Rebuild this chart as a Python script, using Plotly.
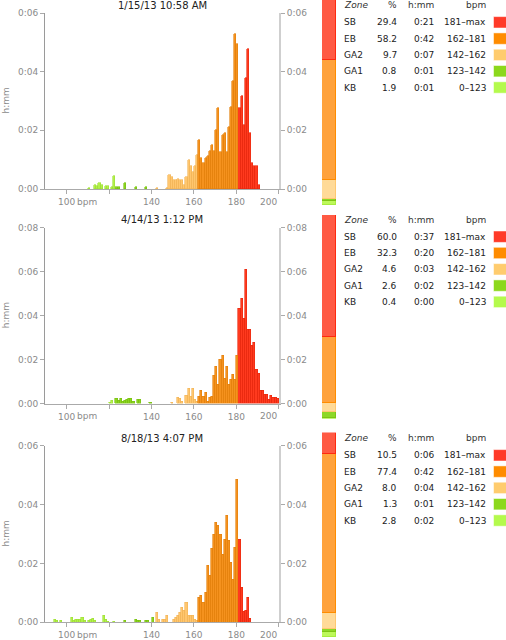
import plotly.graph_objects as go

W, H = 506, 640

# zones, top to bottom as in the table
zones = ["SB", "EB", "GA2", "GA1", "KB"]
zone_range = ["181–max", "162–181", "142–162", "123–142", "0–123"]
zone_low = [181, 162, 142, 123, 0]

hist_fill = ["#FF3A1E", "#F5921E", "#FFC66E", "#8AD41E", "#B2F04A"]
hist_line = ["#E8280E", "#E2800C", "#F2B457", "#78C010", "#9EE036"]
stack_fill = ["#FF5A44", "#FFA23C", "#FFDA98", "#8CD826", "#BCF85A"]
stack_line = ["#FF2A10", "#FF8C00", "#FFC870", "#7CC414", "#A8EC40"]
key_fill = ["#FF3A28", "#FF8C00", "#FFCC6E", "#8CD81C", "#B4FA4C"]

titles = ["1/15/13 10:58 AM", "4/14/13 1:12 PM", "8/18/13 4:07 PM"]
y_max = [6, 8, 6]

# session 1
pct_1 = [29.4, 58.2, 9.7, 0.8, 1.9]
hmm_1 = ["0:21", "0:42", "0:07", "0:01", "0:01"]
bpm_1 = [110, 113, 114, 115, 116, 118, 119, 121, 122, 123, 124, 127, 132, 137, 142] + list(range(147, 191))
min_1 = [0.03, 0.14, 0.11, 0.22, 0.14, 0.11, 0.09, 0.06, 0.45, 0.08, 0.08, 0.22, 0.08, 0.06, 0.03,
         0.05, 0.49, 0.40, 0.32, 0.32, 0.35, 0.31, 0.32, 0.13, 0.40, 0.98, 0.77, 0.59, 0.77, 1.15,
         1.68, 1.07, 0.90, 1.05, 1.13, 1.30, 1.50, 1.30, 2.01, 2.75, 1.27, 1.84, 1.90, 1.27, 2.10,
         2.78, 3.68, 5.28, 4.94,
         2.77, 3.18, 2.19, 3.78, 4.77, 1.90, 0.89, 0.77, 0.77, 0.15]

# session 2
pct_2 = [60.0, 32.3, 4.6, 2.6, 0.4]
hmm_2 = ["0:37", "0:20", "0:03", "0:02", "0:00"]
bpm_2 = [120, 121, 123, 124, 125, 126, 127, 128, 129, 130, 131, 133, 134, 139, 149, 152, 153, 154] + list(range(156, 200))
min_2 = [0.06, 0.12, 0.25, 0.12, 0.25, 0.07, 0.15, 0.19, 0.21, 0.21, 0.07, 0.18, 0.19, 0.03,
         0.06, 0.29, 0.24, 0.09,
         0.35, 0.68, 0.32, 0.67, 0.20, 0.09,
         0.32, 0.58, 0.32, 0.52, 0.09, 0.27, 0.32, 1.27, 1.68, 0.85, 1.98, 2.20, 1.12, 1.67, 0.85,
         1.08, 1.33, 1.08, 2.18,
         4.33, 4.79, 3.88, 6.10, 3.35, 3.35, 2.64, 2.77, 1.56, 1.38, 0.59, 0.59, 0.39, 0.39, 0.17,
         0.35, 0.27, 0.27, 0.25]

# session 3
pct_3 = [10.5, 77.4, 8.0, 1.3, 2.8]
hmm_3 = ["0:06", "0:42", "0:04", "0:01", "0:02"]
bpm_3 = [94, 95, 97, 102, 103, 104, 105, 106, 107, 108, 110, 111, 112, 113, 117, 118, 119, 122,
         127, 132, 133, 134, 137, 138, 140, 142, 143, 145, 146, 147] + list(range(150, 187))
min_3 = [0.10, 0.06, 0.05, 0.14, 0.06, 0.08, 0.08, 0.08, 0.16, 0.05, 0.05, 0.08, 0.12, 0.06,
         0.22, 0.10, 0.03, 0.03,
         0.07, 0.08, 0.06, 0.05, 0.05, 0.07, 0.15,
         0.34, 0.10, 0.08, 0.08, 0.24,
         0.10, 0.14, 0.22, 0.31, 0.50, 0.39, 0.65, 0.23, 0.23, 0.23, 0.10, 0.05,
         0.82, 0.91, 0.67, 1.02, 1.94, 1.59, 2.51, 2.97, 3.39, 3.27, 2.97, 2.31, 2.80, 3.62, 2.78,
         2.04, 1.46, 2.55, 4.86,
         2.82, 1.16, 0.36, 0.39, 0.84, 0.11]

sessions = [(bpm_1, min_1, pct_1, hmm_1), (bpm_2, min_2, pct_2, hmm_2), (bpm_3, min_3, pct_3, hmm_3)]

# panel geometry in pixels
hist_top = [13, 227.7, 445.7]
hist_bot = [189, 403.7, 622.3]
stack_top = [0, 215, 432.7]
stack_bot = [205, 418.5, 637]
head_y = [5.3, 219.7, 438.3]

FONT = "DejaVu Sans"
GRAY = "#8a8a8a"


def px(v):
    return v / W


def py(v):
    return 1 - v / H


def ref(letter, i):
    return letter if i == 1 else letter + str(i)


def zone_of(b):
    for k, low in enumerate(zone_low):
        if b >= low:
            return k


def label(text, x, y, xanchor="center", size=9, color="#222222", **kw):
    return dict(text=text, x=px(x), y=py(y), xref="paper", yref="paper", xanchor=xanchor,
                yanchor="middle", showarrow=False, font=dict(family=FONT, size=size, color=color), **kw)


fig = go.Figure()
annotations = []
shapes = []
layout = {}

for p, (bpm, mins, pct, hmm) in enumerate(sessions):
    hx, sx = 2 * p + 1, 2 * p + 2
    ly, ry, sy = 3 * p + 1, 3 * p + 2, 3 * p + 3

    # histogram, one trace per zone (upper zones drawn against the right-hand copy of the axis)
    for k in range(len(zones)):
        xs = [b for b in bpm if zone_of(b) == k]
        ys = [m for b, m in zip(bpm, mins) if zone_of(b) == k]
        fig.add_trace(go.Bar(x=xs, y=ys, width=1, offset=0,
                             marker=dict(color=hist_fill[k], line=dict(color=hist_line[k], width=0.6)),
                             xaxis=ref("x", hx), yaxis=ref("y", ry if k < 2 else ly), showlegend=False))

    # stacked zone bar, KB at bottom
    for k in reversed(range(len(zones))):
        fig.add_trace(go.Bar(x=[0], y=[pct[k]], width=1,
                             marker=dict(color=stack_fill[k], line=dict(color=stack_line[k], width=1)),
                             xaxis=ref("x", sx), yaxis=ref("y", sy), showlegend=False))

    ticks = list(range(0, y_max[p] + 1, 2))
    labels = ["0:%02d" % t for t in ticks]
    yax = dict(range=[0, y_max[p]], tickvals=ticks, ticktext=labels, ticks="outside", ticklen=4,
               tickcolor="#aaaaaa", showgrid=False, zeroline=False, showline=True, automargin=False,
               tickfont=dict(family=FONT, size=9, color=GRAY), fixedrange=True)

    layout[ref("xaxis", hx)] = dict(domain=[px(45), px(279)], range=[89.8, 200.1], anchor=ref("y", ly),
                                    tickvals=[100, 120, 140, 160, 180, 200],
                                    ticktext=["100", "", "140", "160", "180", ""],
                                    ticks="outside", ticklen=4, tickcolor="#aaaaaa", automargin=False,
                                    showline=True, linecolor="#aaaaaa", showgrid=False, zeroline=False,
                                    tickfont=dict(family=FONT, size=9, color=GRAY), fixedrange=True)
    layout[ref("yaxis", ly)] = dict(yax, domain=[py(hist_bot[p]), py(hist_top[p])], anchor=ref("x", hx),
                                    linecolor="#9a9a9a")
    layout[ref("yaxis", ry)] = dict(yax, overlaying=ref("y", ly), side="right", anchor=ref("x", hx),
                                    linecolor="#cfcfcf", linewidth=2)
    layout[ref("xaxis", sx)] = dict(domain=[px(322), px(336)], range=[-0.5, 0.5], visible=False,
                                    anchor=ref("y", sy), fixedrange=True, automargin=False)
    layout[ref("yaxis", sy)] = dict(domain=[py(stack_bot[p]), py(stack_top[p])], range=[0, 100],
                                    visible=False, anchor=ref("x", sx), fixedrange=True, automargin=False)

    # title, axis title and the shifted tick words
    annotations.append(label(titles[p], 162, head_y[p] - 0.3, size=10))
    annotations.append(label("h:mm", 5.5, (hist_top[p] + hist_bot[p]) / 2, color=GRAY, textangle=-90))
    annotations.append(label("bpm", 75, hist_bot[p] + 12.5, xanchor="left", color=GRAY))
    annotations.append(label("200", 268.5, hist_bot[p] + 12.5, color=GRAY))

    # zone table
    head = [("<i>Zone</i>", 341.7, "left"), ("%", 399.3, "right"), ("h:mm", 436, "right"), ("bpm", 488.3, "right")]
    for text, x, anchor in head:
        annotations.append(label(text, x, head_y[p], xanchor=anchor, color="#333333"))
    for k in range(len(zones)):
        row_y = head_y[p] + 17 + 16.3 * k
        row = [(zones[k], 341.7, "left"), ("%.1f" % pct[k], 399.3, "right"),
               (hmm[k], 436, "right"), (zone_range[k], 488.3, "right")]
        for text, x, anchor in row:
            annotations.append(label(text, x, row_y, xanchor=anchor))
        shapes.append(dict(type="rect", xref="paper", yref="paper", x0=px(493.5), x1=px(508),
                           y0=py(row_y + 5.7), y1=py(row_y - 5.7), fillcolor=key_fill[k],
                           line=dict(color="rgba(255,255,255,0.5)", width=1)))

fig.update_layout(width=W, height=H, margin=dict(l=0, r=0, t=0, b=0, pad=0),
                  paper_bgcolor="white", plot_bgcolor="white", barmode="stack", bargap=0,
                  showlegend=False, annotations=annotations, shapes=shapes,
                  font=dict(family=FONT, size=9), **layout)

# the page's default body margin would push the 506x640 figure out of the window
fig.write_html("out.html", config={"displayModeBar": False},
               post_script="document.body.style.margin = '0'; document.body.style.overflow = 'hidden';")
